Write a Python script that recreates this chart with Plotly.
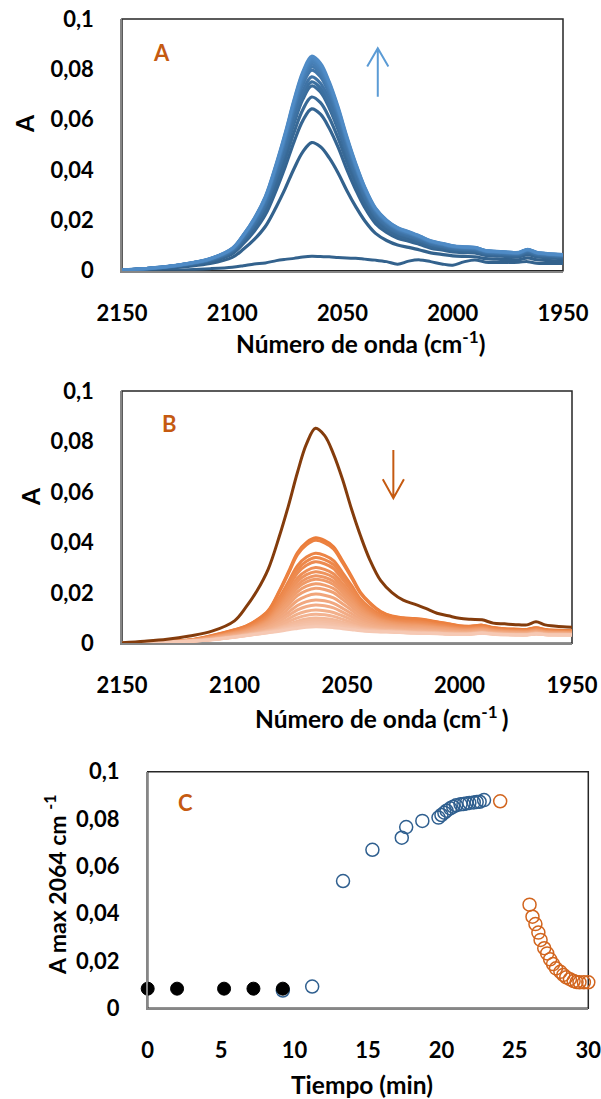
import plotly.graph_objects as go

# ---------------- data ----------------
wavenumber = [2150, 2140, 2130, 2120, 2110, 2100, 2095, 2090, 2085, 2080,
              2076, 2072, 2068, 2064, 2060, 2056, 2052, 2048, 2044, 2040,
              2035, 2030, 2025, 2020, 2015, 2010, 2005, 2000, 1995, 1990,
              1985, 1980, 1975, 1970, 1966, 1962, 1958, 1954, 1950]

# final spectrum (top of panel A, dark curve of panel B)
spectrum_final = [0.0002, 0.0008, 0.0016, 0.0029, 0.0048, 0.0089, 0.0142, 0.0208, 0.0294, 0.0426,
                  0.0546, 0.0678, 0.0790, 0.0852, 0.0824, 0.0750, 0.0650, 0.0532, 0.0426, 0.0334,
                  0.0248, 0.0201, 0.0171, 0.0155, 0.0138, 0.0119, 0.0109, 0.0099, 0.0095, 0.0093,
                  0.0080, 0.0077, 0.0074, 0.0073, 0.0085, 0.0073, 0.0069, 0.0066, 0.0064]

# first spectrum of panel A (lowest blue curve)
spectrum_first = [0.0000, 0.0001, 0.0002, 0.0004, 0.0008, 0.0014, 0.0020, 0.0027, 0.0031, 0.0040,
                  0.0045, 0.0049, 0.0054, 0.0057, 0.0056, 0.0055, 0.0052, 0.0050, 0.0049, 0.0046,
                  0.0042, 0.0036, 0.0026, 0.0038, 0.0043, 0.0036, 0.0027, 0.0022, 0.0035, 0.0043,
                  0.0034, 0.0033, 0.0033, 0.0034, 0.0036, 0.0030, 0.0029, 0.0029, 0.0029]

# peak heights (2064 cm-1) of the growing blue spectra in panel A
peaks_A = [0.0509, 0.0643, 0.0690, 0.0734, 0.0750, 0.0770, 0.0797, 0.0810,
           0.0820, 0.0830, 0.0838, 0.0845, 0.0852]

# panel B: highest and lowest orange spectra
orange_top = [0.0000, 0.0003, 0.0007, 0.0013, 0.0031, 0.0054, 0.0068, 0.0093, 0.0130, 0.0210,
              0.0284, 0.0360, 0.0400, 0.0418, 0.0408, 0.0383, 0.0327, 0.0266, 0.0202, 0.0162,
              0.0126, 0.0108, 0.0101, 0.0098, 0.0093, 0.0085, 0.0078, 0.0070, 0.0068, 0.0072,
              0.0063, 0.0058, 0.0056, 0.0055, 0.0062, 0.0055, 0.0052, 0.0051, 0.0050]
orange_low = [0.0000, 0.0002, 0.0004, 0.0008, 0.0014, 0.0024, 0.0030, 0.0036, 0.0042, 0.0048,
              0.0054, 0.0059, 0.0064, 0.0066, 0.0065, 0.0062, 0.0058, 0.0054, 0.0050, 0.0047,
              0.0045, 0.0044, 0.0042, 0.0040, 0.0039, 0.0038, 0.0036, 0.0035, 0.0036, 0.0040,
              0.0036, 0.0034, 0.0033, 0.0033, 0.0037, 0.0034, 0.0033, 0.0033, 0.0033]
# peak heights of the decaying orange spectra in panel B
peaks_B = [0.0418, 0.0408, 0.0357, 0.0340, 0.0323, 0.0300, 0.0284, 0.0268, 0.0254, 0.0236,
           0.0218, 0.0195, 0.0172, 0.0152, 0.0132, 0.0115, 0.0100, 0.0092, 0.0084, 0.0077,
           0.0070, 0.0066]

# panel C: maximum absorbance vs time
t_black = [0.0, 2.0, 5.2, 7.2, 9.2]
a_black = [0.0083, 0.0083, 0.0083, 0.0083, 0.0083]
t_blue = [9.2, 11.2, 13.3, 15.3, 17.3, 17.6, 18.7, 19.8, 20.0, 20.2, 20.35, 20.6, 20.8,
          21.0, 21.3, 21.5, 21.7, 21.9, 22.2, 22.4, 22.6, 22.9]
a_blue = [0.0075, 0.0092, 0.0538, 0.0670, 0.0721, 0.0766, 0.0792, 0.0806, 0.0817, 0.0827,
          0.0835, 0.0845, 0.0852, 0.0858, 0.0862, 0.0863, 0.0866, 0.0868, 0.0870, 0.0872,
          0.0873, 0.0880]
t_orange = [24.0, 26.0, 26.2, 26.4, 26.6, 26.75, 27.0, 27.2, 27.4, 27.6, 27.8, 28.1, 28.3,
            28.5, 28.75, 29.0, 29.2, 29.4, 29.7, 30.0]
a_orange = [0.0875, 0.0438, 0.0387, 0.0356, 0.0320, 0.0289, 0.0254, 0.0232, 0.0207, 0.0187,
            0.0169, 0.0154, 0.0141, 0.0131, 0.0123, 0.0115, 0.0111, 0.0110, 0.0110, 0.0110]

y_ticks = [0, 0.02, 0.04, 0.06, 0.08, 0.1]
y_tick_text = ["0", "0,02", "0,04", "0,06", "0,08", "0,1"]
wn_ticks = [2150, 2100, 2050, 2000, 1950]
t_ticks = [0, 5, 10, 15, 20, 25, 30]

# ---------------- style ----------------
W, H = 601, 1099
FONT = "Lato"
TICK_FONT = dict(family=FONT, size=22, color="#000000", weight="bold")
LETTER_COLOR = "#C55A11"


def mix(c1, c2, f):
    a = [int(c1[i:i + 2], 16) for i in (1, 3, 5)]
    b = [int(c2[i:i + 2], 16) for i in (1, 3, 5)]
    return "#" + "".join("%02x" % round(a[k] + (b[k] - a[k]) * f) for k in range(3))


def px(x):
    return x / W


def py(y):
    return 1 - y / H


fig = go.Figure()

# ---- Panel A ----
fig.add_trace(go.Scatter(x=wavenumber, y=spectrum_first, mode="lines", xaxis="x", yaxis="y",
                         line=dict(color="#33628d", width=3, shape="spline"), showlegend=False))
top_peak = max(spectrum_final)
nA = len(peaks_A)
for i, p in enumerate(peaks_A):
    f = i / (nA - 1)
    ys = [v * p / top_peak for v in spectrum_final]
    fig.add_trace(go.Scatter(x=wavenumber, y=ys, mode="lines", xaxis="x", yaxis="y",
                             line=dict(color=mix("#33628d", "#4f8bc6", f), width=3.2, shape="spline"),
                             showlegend=False))

# ---- Panel B ----
pt, pl = max(orange_top), max(orange_low)
nB = len(peaks_B)
for i, p in enumerate(peaks_B):
    f = i / (nB - 1)
    k = (p - pl) / (pt - pl)
    ys = [lo + (hi - lo) * k for hi, lo in zip(orange_top, orange_low)]
    fig.add_trace(go.Scatter(x=wavenumber, y=ys, mode="lines", xaxis="x2", yaxis="y2",
                             line=dict(color=mix("#eb7d3a", "#f6c9b4", f), width=3, shape="spline"),
                             showlegend=False))
fig.add_trace(go.Scatter(x=wavenumber, y=spectrum_final, mode="lines", xaxis="x2", yaxis="y2",
                         line=dict(color="#843c0c", width=3, shape="spline"), showlegend=False))

# ---- Panel C ----
fig.add_trace(go.Scatter(x=t_blue, y=a_blue, mode="markers", xaxis="x3", yaxis="y3", cliponaxis=False,
                         marker=dict(size=13, color="rgba(0,0,0,0)", line=dict(color="#2f5f8f", width=1.5)),
                         showlegend=False))
fig.add_trace(go.Scatter(x=t_orange, y=a_orange, mode="markers", xaxis="x3", yaxis="y3", cliponaxis=False,
                         marker=dict(size=13, color="rgba(0,0,0,0)", line=dict(color="#d2651e", width=1.5)),
                         showlegend=False))
fig.add_trace(go.Scatter(x=t_black, y=a_black, mode="markers", xaxis="x3", yaxis="y3", cliponaxis=False,
                         marker=dict(size=13, color="#000000", line=dict(color="#000000", width=1)),
                         showlegend=False))

axis_common = dict(showgrid=False, zeroline=False, showline=True, linecolor="#868686", linewidth=1.5,
                   ticks="", tickfont=TICK_FONT, automargin=False, ticklabelstandoff=22,
                   ticklabeloverflow="allow")

fig.update_layout(
    width=W, height=H, margin=dict(l=0, r=0, t=0, b=0, pad=0),
    paper_bgcolor="white", plot_bgcolor="white", separators=", ",
    xaxis=dict(domain=[px(122), px(563)], anchor="y", range=[2150, 1950], tickvals=wn_ticks,
               **axis_common),
    yaxis=dict(domain=[py(270.7), py(19)], anchor="x", range=[0, 0.1], tickvals=y_ticks,
               ticktext=y_tick_text, **axis_common),
    xaxis2=dict(domain=[px(122), px(572)], anchor="y2", range=[2150, 1950], tickvals=wn_ticks,
                **axis_common),
    yaxis2=dict(domain=[py(643.3), py(391)], anchor="x2", range=[0, 0.1], tickvals=y_ticks,
                ticktext=y_tick_text, **axis_common),
    xaxis3=dict(domain=[px(147.7), px(588.3)], anchor="y3", range=[0, 30], tickvals=t_ticks,
                **axis_common),
    yaxis3=dict(domain=[py(1008.3), py(771.7)], anchor="x3", range=[0, 0.1], tickvals=y_ticks,
                ticktext=y_tick_text, **axis_common),
)

# plot-area frames
for xa, ya in (("x", "y"), ("x2", "y2"), ("x3", "y3")):
    fig.add_shape(type="rect", xref=xa + " domain", yref=ya + " domain", x0=0, x1=1, y0=0, y1=1,
                  line=dict(color="#262626", width=1.5), layer="below")

# arrows
fig.add_shape(type="path", xref="x", yref="y",
              path="M 2034 0.0691 L 2034 0.0884 M 2038.8 0.0811 L 2034 0.0884 L 2029.2 0.0811",
              line=dict(color="#5b9bd5", width=2))
fig.add_shape(type="path", xref="x2", yref="y2",
              path="M 2029.4 0.0766 L 2029.4 0.0575 M 2034.1 0.0650 L 2029.4 0.0575 L 2024.7 0.0650",
              line=dict(color="#c55a11", width=2))

title_font = dict(family=FONT, size=24.5, color="#000000", weight="bold")
letter_font = dict(family=FONT, size=22, color=LETTER_COLOR, weight="bold")
annotations = [
    # panel letters
    dict(text="A", x=2131.9, y=0.0865, xref="x", yref="y", showarrow=False, font=letter_font),
    dict(text="B", x=2128.7, y=0.0873, xref="x2", yref="y2", showarrow=False, font=letter_font),
    dict(text="C", x=2.6, y=0.0868, xref="x3", yref="y3", showarrow=False, font=letter_font),
    # axis titles
    dict(text="Número de onda (cm<sup>-1</sup>)", x=px(360.7), y=py(342), xref="paper", yref="paper",
         showarrow=False, font=title_font, xanchor="center", yanchor="middle"),
    dict(text="A", x=px(25), y=py(124), xref="paper", yref="paper", textangle=-90,
         showarrow=False, font=title_font, xanchor="center", yanchor="middle"),
    dict(text="Número de onda (cm<sup>-1 </sup>)", x=px(381.7), y=py(716.7), xref="paper", yref="paper",
         showarrow=False, font=title_font, xanchor="center", yanchor="middle"),
    dict(text="A", x=px(30), y=py(497), xref="paper", yref="paper", textangle=-90,
         showarrow=False, font=title_font, xanchor="center", yanchor="middle"),
    dict(text="Tiempo (min)", x=px(362), y=py(1084), xref="paper", yref="paper",
         showarrow=False, font=title_font, xanchor="center", yanchor="middle"),
    dict(text="A max 2064 cm <sup>-1</sup>", x=px(55), y=py(885), xref="paper", yref="paper", textangle=-90,
         showarrow=False, font=dict(family=FONT, size=23, color="#000000", weight="bold"),
         xanchor="center", yanchor="middle"),
]
fig.update_layout(annotations=annotations)

fig.write_html("out.html", config={"displayModeBar": False},
               post_script="document.body.style.margin='0';document.body.style.padding='0';")
